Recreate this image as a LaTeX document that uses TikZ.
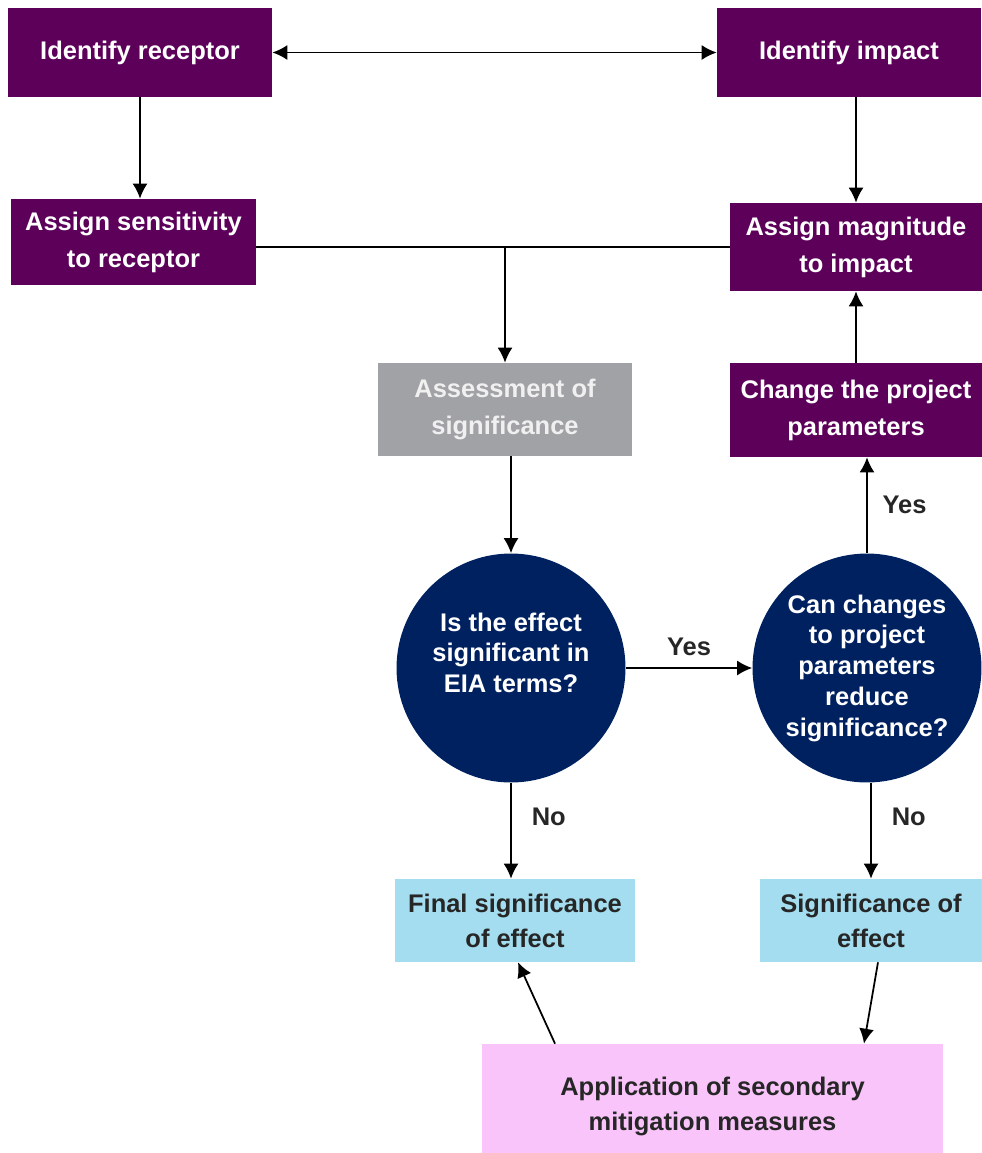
\documentclass[tikz,border=0pt]{standalone}
\usepackage{fontspec}
\setmainfont{Liberation Sans}
\usetikzlibrary{arrows.meta}
\definecolor{eiapurple}{RGB}{92,0,90}
\definecolor{eianavy}{RGB}{0,33,96}
\definecolor{eiagrey}{RGB}{160,162,166}
\definecolor{eiablue}{RGB}{164,221,239}
\definecolor{eiapink}{RGB}{249,196,249}
\definecolor{eiatext}{RGB}{38,38,38}
\tikzset{
  stepbox/.style={shape=rectangle,fill=eiapurple,text=white,align=center,inner sep=0pt,
    font=\bfseries\fontsize{14.5}{21}\selectfont},
  greybox/.style={stepbox,fill=eiagrey,text=white!94!black},
  endbox/.style={stepbox,fill=eiablue,text=eiatext,font=\bfseries\fontsize{14.5}{20}\selectfont},
  mitbox/.style={endbox,fill=eiapink},
  question/.style={shape=circle,fill=eianavy,text=white,align=center,inner sep=0pt,
    minimum size=4.58cm,font=\bfseries\fontsize{14.5}{17.5}\selectfont},
  answer/.style={text=eiatext,font=\bfseries\fontsize{14.5}{17}\selectfont},
  arr/.style={-{Latex[length=8.5pt,width=8.5pt]},line width=1pt}
}
\begin{document}
\begin{tikzpicture}[x=0.02cm,y=-0.02cm]
        \useasboundingbox (0,0) rectangle (982,1153);
        \node[stepbox,minimum width=5.28cm,minimum height=1.78cm] (receptor) at (140,52.5) {Identify receptor};
        \node[stepbox,minimum width=5.28cm,minimum height=1.78cm] (impact) at (849,52.5) {Identify impact};
        \node[stepbox,minimum width=4.9cm,minimum height=1.72cm] (sensitivity) at (133.5,242) {Assign sensitivity\\to receptor};
        \node[stepbox,minimum width=5.04cm,minimum height=1.76cm] (magnitude) at (856,247) {Assign magnitude\\to impact};
        \node[greybox,minimum width=5.08cm,minimum height=1.86cm] (assessment) at (505,409.5) {Assessment of\\significance};
        \node[stepbox,minimum width=5.04cm,minimum height=1.88cm] (change) at (856,410) {Change the project\\parameters};
        \node[question] (effect) at (511,668) {Is the effect\\significant in\\EIA terms?\\~};
        \node[question] (reduce) at (867,668) {Can changes\\to project\\parameters\\reduce\\significance?};
        \node[endbox,minimum width=4.8cm,minimum height=1.66cm] (final) at (515,920.5) {Final significance\\of effect};
        \node[endbox,minimum width=4.44cm,minimum height=1.66cm] (signif) at (871,920.5) {Significance of\\effect};
        \node[mitbox,minimum width=9.22cm,minimum height=2.5cm] (mitigation) at (712.5,1106.5) {Application of secondary\\mitigation measures};
        \coordinate (join) at (assessment.north |- magnitude.west);
        \path [{Latex[length=8.5pt,width=8.5pt]}-{Latex[length=8.5pt,width=8.5pt]},line width=1pt] (receptor) edge (impact);
        \path [arr] (receptor.south) edge (receptor.south |- sensitivity.north);
        \path [arr] (impact.south -| magnitude.north) edge (magnitude.north);
        \path [line width=1pt] (sensitivity.east |- join) edge (magnitude.west);
        \path [arr] (join) edge (assessment.north);
        \path [arr] (assessment.south -| effect.north) edge (effect.north);
        \path [arr] (effect) edge node[answer,above=3pt]{Yes} (reduce);
        \path [arr] (reduce.north) edge node[answer,right=5pt]{Yes} (reduce.north |- change.south);
        \path [arr] (change.north) edge (magnitude.south);
        \path [arr] (effect.south) edge node[answer,right=8pt,pos=0.35]{No} (effect.south |- final.north);
        \path [arr] (reduce.south -| signif.north) edge node[answer,right=8pt,pos=0.35]{No} (signif.north);
        \path [arr] ([xshift=0.14cm]signif.south) edge ([xshift=3.03cm]mitigation.north);
        \path [arr] ([xshift=-3.15cm]mitigation.north) edge ([xshift=0.06cm]final.south);
    \end{tikzpicture}
\end{document}
